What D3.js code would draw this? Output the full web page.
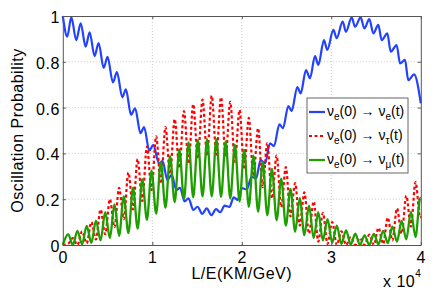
<!DOCTYPE html>
<html>
<head>
<meta charset="utf-8">
<script src="https://cdn.jsdelivr.net/npm/d3@7"></script>
<style>
body { margin: 0; background: #fff; }
svg { display: block; font-family: "Liberation Sans", Arial, Helvetica, sans-serif; }
</style>
</head>
<body>
<script>
// tick labels
var xTicks = [0, 1, 2, 3, 4];
var yTicks = [0, 0.2, 0.4, 0.6, 0.8, 1];
var yTickLabels = ["0", "0.2", "0.4", "0.6", "0.8", "1"];

// P(nu_e -> nu_e): turning points (L/E in 1e4 km/GeV)
var eeX = [0, 0.05, 0.095, 0.15, 0.20, 0.255, 0.30, 0.355, 0.40, 0.457, 0.50, 0.56, 0.605, 0.665, 0.705, 0.762, 0.808,
  0.868, 0.908, 0.967, 1.01, 1.075, 1.115, 1.168, 1.216, 1.27, 1.31, 1.36, 1.405, 1.458, 1.505, 1.558, 1.608, 1.66,
  1.712, 1.76, 1.808, 1.862, 1.91, 1.955, 2.00, 2.055, 2.11, 2.16, 2.21, 2.26, 2.315, 2.36, 2.42, 2.46, 2.52, 2.557,
  2.62, 2.658, 2.717, 2.762, 2.818, 2.855, 2.918, 2.955, 3.023, 3.06, 3.127, 3.164, 3.228, 3.265, 3.328, 3.369, 3.425,
  3.47, 3.525, 3.563, 3.626, 3.664, 3.73, 3.768, 3.823, 3.86, 3.925, 4.0];
var eeP = [1.0, 0.91, 0.995, 0.895, 0.968, 0.866, 0.929, 0.825, 0.882, 0.773, 0.822, 0.71, 0.755, 0.645, 0.68, 0.569, 0.597,
  0.488, 0.515, 0.412, 0.437, 0.357, 0.366, 0.284, 0.306, 0.24, 0.25, 0.19, 0.204, 0.153, 0.167, 0.136, 0.16, 0.13,
  0.157, 0.143, 0.172, 0.166, 0.208, 0.197, 0.248, 0.243, 0.298, 0.291, 0.371, 0.357, 0.444, 0.432, 0.527, 0.51, 0.607, 0.585,
  0.69, 0.662, 0.764, 0.728, 0.825, 0.786, 0.895, 0.852, 0.939, 0.903, 0.975, 0.931, 0.994, 0.953, 0.994, 0.946, 0.986,
  0.924, 0.961, 0.895, 0.924, 0.844, 0.873, 0.793, 0.808, 0.72, 0.745, 0.619];

// turning points shared by the tau and mu curves
var fastX = [0, 0.06, 0.112, 0.1635, 0.215, 0.267, 0.319, 0.3705, 0.422, 0.474, 0.526, 0.5775, 0.629, 0.681, 0.733,
  0.7845, 0.836, 0.888, 0.94, 0.9915, 1.043, 1.095, 1.147, 1.1985, 1.25, 1.302, 1.354, 1.4055, 1.457, 1.509, 1.561,
  1.6125, 1.664, 1.716, 1.768, 1.8195, 1.871, 1.923, 1.975, 2.0265, 2.078, 2.13, 2.182, 2.2335, 2.285, 2.337, 2.389,
  2.4405, 2.492, 2.544, 2.596, 2.6475, 2.699, 2.751, 2.803, 2.8545, 2.906, 2.958, 3.01, 3.0615, 3.113, 3.165, 3.217,
  3.2685, 3.32, 3.372, 3.424, 3.4755, 3.527, 3.579, 3.631, 3.6825, 3.734, 3.786, 3.838, 3.8895, 3.941, 3.993, 4.0];
var eTau = [0, 0.005, 0.03, 0.0, 0.06, 0.007, 0.1, 0.024, 0.155, 0.047, 0.2, 0.078, 0.25, 0.113, 0.316,
  0.155, 0.375, 0.192, 0.43, 0.24, 0.475, 0.268, 0.515, 0.31, 0.55, 0.335, 0.585, 0.355, 0.615, 0.378, 0.635,
  0.39, 0.652, 0.395, 0.645, 0.388, 0.625, 0.363, 0.59, 0.33, 0.555, 0.3, 0.51, 0.253, 0.445, 0.203, 0.39,
  0.165, 0.34, 0.125, 0.27, 0.085, 0.23, 0.05, 0.19, 0.015, 0.14, 0.005, 0.1, 0.0, 0.06, 0.0, 0.035,
  0.0, 0.03, 0.0, 0.045, 0.0, 0.075, 0.005, 0.12, 0.02, 0.16, 0.05, 0.215, 0.08, 0.275, 0.12, 0.125];
var eMu = [0, 0.047, 0.0, 0.062, 0.003, 0.083, 0.009, 0.106, 0.02, 0.143, 0.03, 0.177, 0.04, 0.212, 0.052,
  0.25, 0.072, 0.288, 0.11, 0.325, 0.137, 0.362, 0.163, 0.388, 0.187, 0.418, 0.2, 0.448, 0.208, 0.458, 0.212,
  0.462, 0.212, 0.462, 0.21, 0.452, 0.203, 0.437, 0.19, 0.415, 0.167, 0.39, 0.146, 0.362, 0.13, 0.332, 0.108,
  0.29, 0.085, 0.245, 0.058, 0.205, 0.043, 0.172, 0.03, 0.143, 0.02, 0.113, 0.01, 0.085, 0.005, 0.064, 0.002,
  0.05, 0.0, 0.042, 0.0, 0.048, 0.003, 0.062, 0.008, 0.08, 0.015, 0.105, 0.025, 0.145, 0.035, 0.205, 0.204];

var w = 436, h = 293;
var margin = {top: 16, right: 15.2, bottom: 48, left: 62.8};

var svg = d3.select('body').append('svg')
    .attr('width', w)
    .attr('height', h);

var xScale = d3.scaleLinear().domain([0, 4]).range([margin.left, w - margin.right]);
var yScale = d3.scaleLinear().domain([0, 1]).range([h - margin.bottom, margin.top]);

var x0 = xScale.range()[0], x1 = xScale.range()[1];
var y0 = yScale.range()[0], y1 = yScale.range()[1];

// dotted grid
svg.append('g').selectAll('line.gx')
    .data(xTicks.slice(1, -1))
    .enter().append('line')
    .attr('x1', function (d) { return xScale(d); })
    .attr('x2', function (d) { return xScale(d); })
    .attr('y1', y0).attr('y2', y1)
    .attr('stroke', '#c8c8c8').attr('stroke-dasharray', '1,2');
svg.append('g').selectAll('line.gy')
    .data(yTicks.slice(1, -1))
    .enter().append('line')
    .attr('y1', function (d) { return yScale(d); })
    .attr('y2', function (d) { return yScale(d); })
    .attr('x1', x0).attr('x2', x1)
    .attr('stroke', '#c8c8c8').attr('stroke-dasharray', '1,2');

function series(xs, ys) {
    return xs.map(function (x, i) { return [x, ys[i]]; });
}

var line = d3.line()
    .x(function (d) { return xScale(d[0]); })
    .y(function (d) { return yScale(d[1]); })
    .curve(d3.curveMonotoneX);

svg.append('path')
    .attr('d', line(series(eeX, eeP)))
    .attr('fill', 'none').attr('stroke', '#2342ff').attr('stroke-width', 2.2);

svg.append('path')
    .attr('d', line(series(fastX, eTau)))
    .attr('fill', 'none').attr('stroke', '#ff0000').attr('stroke-width', 2.2)
    .attr('stroke-dasharray', '3,2.5');

svg.append('path')
    .attr('d', line(series(fastX, eMu)))
    .attr('fill', 'none').attr('stroke', '#1e9e00').attr('stroke-width', 2.3);

// axes, ticks pointing inward, box on
var axisColor = '#555';
var gx = svg.append('g')
    .attr('transform', 'translate(0,' + y0 + ')')
    .call(d3.axisBottom(xScale).tickValues(xTicks).tickFormat(d3.format('d'))
        .tickSizeInner(-3).tickSizeOuter(0).tickPadding(7));
var gy = svg.append('g')
    .attr('transform', 'translate(' + x0 + ',0)')
    .call(d3.axisLeft(yScale).tickValues(yTicks)
        .tickFormat(function (d, i) { return yTickLabels[i]; })
        .tickSizeInner(-3).tickSizeOuter(0).tickPadding(3));
var gt = svg.append('g')
    .attr('transform', 'translate(0,' + y1 + ')')
    .call(d3.axisTop(xScale).tickValues(xTicks).tickFormat('').tickSizeInner(-3).tickSizeOuter(0));
var gr = svg.append('g')
    .attr('transform', 'translate(' + x1 + ',0)')
    .call(d3.axisRight(yScale).tickValues(yTicks).tickFormat('').tickSizeInner(-3).tickSizeOuter(0));

[gx, gy, gt, gr].forEach(function (g) {
    g.select('.domain').attr('stroke', axisColor);
    g.selectAll('.tick line').attr('stroke', axisColor);
    g.selectAll('.tick text').attr('fill', '#000').style('font-size', '16px')
        .style('letter-spacing', '0.5px')
        .style('font-family', '"Liberation Sans", Arial, sans-serif');
});
gy.selectAll('.tick text').attr('dy', '0.4em');

// axis titles
svg.append('text')
    .attr('x', (x0 + x1) / 2).attr('y', 279)
    .attr('text-anchor', 'middle').style('font-size', '16px').style('letter-spacing', '0.5px')
    .text('L/E(KM/GeV)');

svg.append('text')
    .attr('transform', 'translate(23,' + ((y0 + y1) / 2) + ') rotate(-90)')
    .attr('text-anchor', 'middle').style('font-size', '16px').style('letter-spacing', '0.5px')
    .text('Oscillation Probability');

var expo = svg.append('text')
    .attr('x', 383).attr('y', 287).style('font-size', '16px').style('letter-spacing', '0.5px');
expo.append('tspan').text('x 10');
expo.append('tspan').attr('dy', -10).style('font-size', '10px').text('4');

// legend
var legendItems = [
    {flavour: 'e', color: '#2342ff', dash: null},
    {flavour: 'τ', color: '#ff0000', dash: '3,2.5'},
    {flavour: 'μ', color: '#1e9e00', dash: null}
];
var lg = svg.append('g');
lg.append('rect')
    .attr('x', 307).attr('y', 98).attr('width', 101).attr('height', 75)
    .attr('fill', '#fff').attr('stroke', '#666');

var rows = lg.selectAll('g.row')
    .data(legendItems)
    .enter().append('g')
    .attr('transform', function (d, i) { return 'translate(0,' + (112 + i * 24) + ')'; });

rows.append('line')
    .attr('x1', 309).attr('x2', 325).attr('y1', 0).attr('y2', 0)
    .attr('stroke', function (d) { return d.color; })
    .attr('stroke-width', 2.2)
    .attr('stroke-dasharray', function (d) { return d.dash; });

var lt = rows.append('text')
    .attr('x', 327).attr('y', 4).style('font-size', '14px');
lt.append('tspan').text('ν');
lt.append('tspan').attr('dy', 4).style('font-size', '10px').text('e');
lt.append('tspan').attr('dy', -4).text('(0) → ν');
lt.append('tspan').attr('dy', 4).style('font-size', '10px').text(function (d) { return d.flavour; });
lt.append('tspan').attr('dy', -4).text('(t)');
</script>
</body>
</html>
